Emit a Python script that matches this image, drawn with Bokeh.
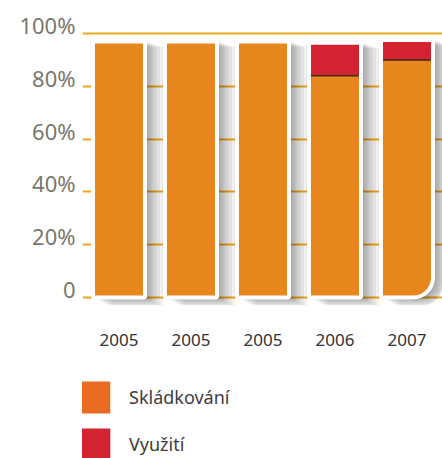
import numpy as np
from bokeh.plotting import figure
from bokeh.layouts import column
from bokeh.models import (FixedTicker, LinearAxis, Range1d, Legend, LegendItem, Grid)
from bokeh.embed import file_html
from bokeh.resources import INLINE

# ---- data ----
years = ["2005", "2005", "2005", "2006", "2007"]
skladkovani = [97, 97, 97, 84, 90]
vyuziti = [0, 0, 0, 12.5, 7.5]
y_ticks = [0, 20, 40, 60, 80, 100]
y_tick_labels = ["0", "20%", "40%", "60%", "80%", "100%"]
series_names = ["Skládkování", "Využití"]

# ---- style ----
ORANGE = "#e8861e"
RED = "#d42330"
GRID = "#f2a81d"
LEG_OR = "#e96b22"
FONT = "Noto Sans"

W = 442
H_MAIN, H_LEG = 370, 88
PX_X = 72.0   # px per category
PX_Y = 2.64   # px per percent
BW = 52 / PX_X
Y0, Y1 = -3.03, 104.92
LAB_OFF = 8.5 / PX_Y

x = np.arange(len(years), dtype=float)
sk = np.array(skladkovani, dtype=float)
vy = np.array(vyuziti, dtype=float)
tot = sk + vy

p = figure(width=W, height=H_MAIN, x_range=Range1d(-0.507, 4.493), y_range=Range1d(Y0, Y1),
           output_backend="svg", toolbar_location=None, y_axis_location=None,
           min_border_left=82, min_border_right=0, min_border_top=20, min_border_bottom=65)
p.outline_line_color = None
p.background_fill_color = "white"
p.border_fill_color = "white"

# grids
p.center = [c for c in p.center if not isinstance(c, Grid)]
p.add_layout(Grid(dimension=1, ticker=FixedTicker(ticks=y_ticks), grid_line_color=GRID,
                  grid_line_width=2), "center")

# x axis
p.xaxis.ticker = FixedTicker(ticks=[int(i) for i in x])
p.xaxis.major_label_overrides = {int(i): years[int(i)] for i in x}
p.xaxis.axis_line_color = None
p.xaxis.major_tick_line_color = None
p.xaxis.minor_tick_line_color = None
p.xaxis.major_label_standoff = 22
p.xaxis.major_label_text_font = FONT
p.xaxis.major_label_text_font_size = "17px"
p.xaxis.major_label_text_color = "#333333"

# y axis (labels sit a little above the grid lines)
p.extra_y_ranges = {"lab": Range1d(Y0 - LAB_OFF, Y1 - LAB_OFF)}
ax = LinearAxis(y_range_name="lab", ticker=FixedTicker(ticks=y_ticks),
                major_label_overrides=dict(zip(y_ticks, y_tick_labels)),
                axis_line_color=None, major_tick_line_color=None, minor_tick_line_color=None,
                major_label_standoff=1, major_label_text_font=FONT,
                major_label_text_font_size="22px", major_label_text_color="#7a766b")
p.add_layout(ax, "left")


def draw(idx, radius):
    xs, s, t, v = x[idx], sk[idx], tot[idx], vy[idx]
    # soft drop shadow
    for d in [3, 5, 7, 9, 12, 15, 18]:
        p.vbar(x=xs + d / PX_X, width=BW, top=t - d * 0.3 / PX_Y, bottom=-d * 0.55 / PX_Y,
               fill_color="black", fill_alpha=0.055, line_color=None, border_radius=radius)
    p.vbar(x=xs - 3 / PX_X, width=BW, top=t, bottom=-2 / PX_Y,
           fill_color="black", fill_alpha=0.03, line_color=None)
    p.vbar(x=xs, width=BW, top=s, bottom=0, fill_color=ORANGE, line_color=None,
           border_radius=radius)
    p.vbar(x=xs, width=BW, top=t, bottom=s, fill_color=RED, line_color=None)
    p.vbar(x=xs, width=BW, top=t, bottom=0, fill_color=None, line_color="white",
           line_width=4, border_radius=radius)
    m = v > 0
    p.segment(x0=xs[m] - BW / 2 + 2 / PX_X, y0=s[m], x1=xs[m] + BW / 2 - 2 / PX_X, y1=s[m],
              line_color="#3a2a20", line_width=1.5)


draw(np.arange(len(years) - 1), 0)
draw(np.array([len(years) - 1]), (0, 0, 20, 0))

# legend in its own strip below (its frame is aligned with the chart's frame)
lf = figure(width=W, height=H_LEG, x_range=Range1d(0, 1), y_range=Range1d(0, 1),
            output_backend="svg", toolbar_location=None, x_axis_location=None,
            y_axis_location=None, min_border=0)
lf.outline_line_color = None
lf.grid.visible = False
# zero-size placeholder renderers that only carry the legend swatch styles
r1 = lf.vbar(x=[0.5], top=[0.5], bottom=[0.5], width=0, fill_color=LEG_OR, line_color=None)
r2 = lf.vbar(x=[0.5], top=[0.5], bottom=[0.5], width=0, fill_color=RED, line_color=None)
legend = Legend(items=[LegendItem(label=series_names[0], renderers=[r1]),
                       LegendItem(label=series_names[1], renderers=[r2])],
                location=(-10, -6), orientation="vertical", glyph_width=42, glyph_height=40,
                label_height=33, spacing=7, padding=0, margin=0, label_standoff=15,
                border_line_color=None, background_fill_alpha=0,
                label_text_font=FONT, label_text_font_size="18px", label_text_color="#3c3c3c",
                label_text_baseline="top")
lf.add_layout(legend)

open("out.html", "w").write(file_html(column(p, lf, spacing=0), INLINE))
